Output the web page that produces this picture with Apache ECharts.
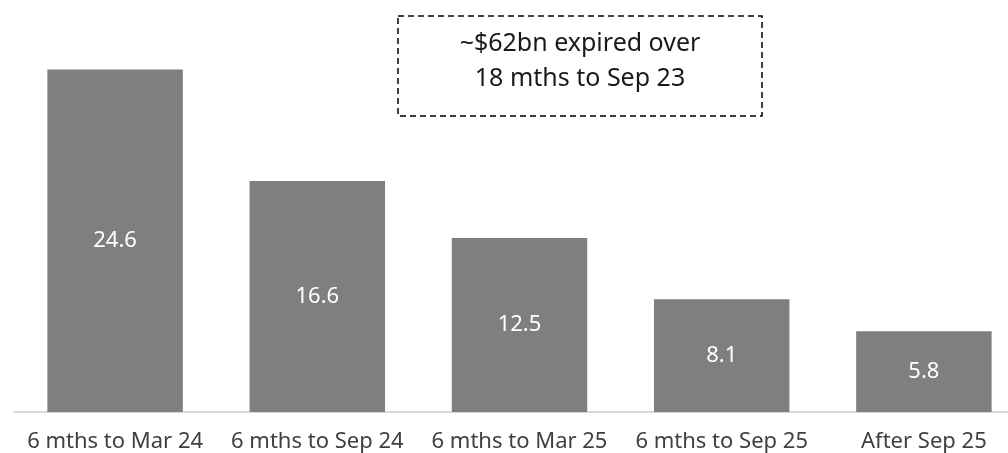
<!DOCTYPE html>
<html>
<head>
<meta charset="UTF-8">
<title>Expiry profile</title>
<script src="https://cdn.jsdelivr.net/npm/echarts@6/dist/echarts.min.js"></script>
<style>
  html, body { margin: 0; padding: 0; background: #fff; }
  #chart { width: 1008px; height: 453px; }
</style>
</head>
<body>
<div id="chart"></div>
<script type="text/javascript">

  // data
  var categories = ['6 mths to Mar 24', '6 mths to Sep 24', '6 mths to Mar 25', '6 mths to Sep 25', 'After Sep 25'];
  var values = [24.6, 16.6, 12.5, 8.1, 5.8];
  var noteLines = ['~$62bn expired over', '18 mths to Sep 23'];

  var font = 'Noto Sans';
  var myChart = echarts.init(document.getElementById('chart'));

  var option = {
      animation: false,
      grid: {
          left: 14,
          width: 1011,
          top: 64,
          bottom: 41,
          outerBoundsMode: 'none',
          containLabel: false
      },
      xAxis: {
          type: 'category',
          data: categories,
          axisLine: { lineStyle: { color: '#d9d9d9', width: 2 } },
          axisTick: { show: false },
          axisLabel: {
              color: '#404040',
              fontFamily: font,
              fontSize: 22,
              margin: 19,
              interval: 0
          }
      },
      yAxis: {
          type: 'value',
          min: 0,
          max: 25,
          show: false,
          splitLine: { show: false }
      },
      series: [
          {
              type: 'bar',
              data: values,
              barCategoryGap: '33%',
              itemStyle: { color: '#7f7f7f' },
              label: {
                  show: true,
                  position: 'inside',
                  color: '#ffffff',
                  fontFamily: font,
                  fontSize: 22
              }
          }
      ],
      graphic: [
          {
              type: 'rect',
              x: 398,
              y: 16,
              shape: { width: 364, height: 100 },
              style: { fill: 'none', stroke: '#000', lineWidth: 1.5, lineDash: [6, 4] }
          },
          {
              type: 'text',
              x: 580,
              y: 26,
              style: {
                  text: noteLines.join('\n'),
                  font: '25px "' + font + '"',
                  fill: '#1a1a1a',
                  align: 'center',
                  lineHeight: 35
              }
          }
      ]
  };

  myChart.setOption(option);

</script>
</body>
</html>
